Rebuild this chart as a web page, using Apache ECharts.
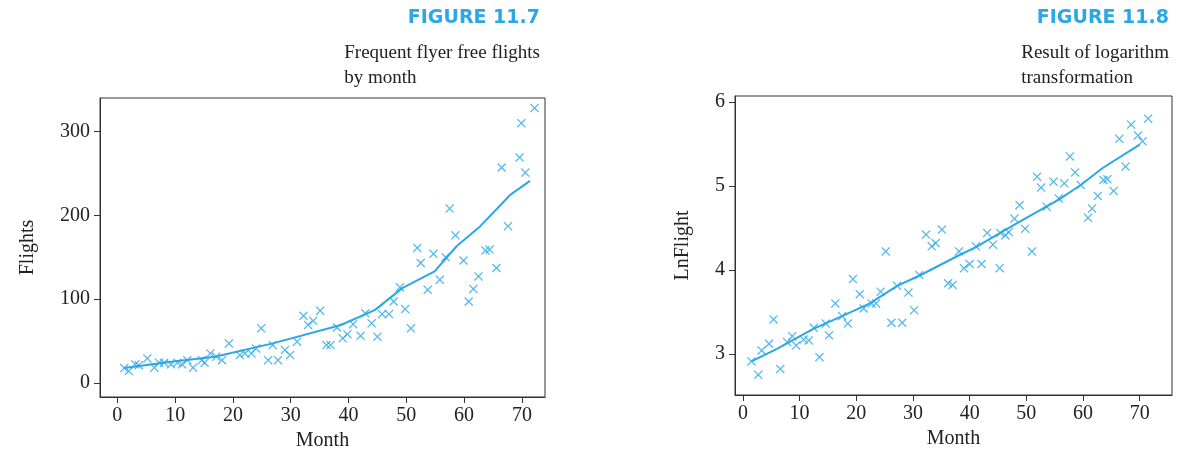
<!DOCTYPE html>
<html>
<head>
<meta charset="utf-8">
<script src="https://cdn.jsdelivr.net/npm/echarts@6/dist/echarts.min.js"></script>
<style>
html,body{margin:0;padding:0;background:#fff;}
#main{width:1186px;height:458px;}
</style>
</head>
<body>
<div id="main"></div>
<script>
// 月份刻度
var monthTicks = [0, 10, 20, 30, 40, 50, 60, 70];
var flightTicks = [0, 100, 200, 300];
var lnTicks = [3, 4, 5, 6];

// Figure 11.7 散点 [月份, 航班]
var flights = [[1.2,17.5],[2,14],[3.1,22],[3.7,21],[5.2,29],[6.4,18],[7.2,24],[8.1,24],[9.3,22],[10.4,24],
  [11.2,22],[12.1,27],[13.1,18],[14.6,27],[15.1,24],[16.1,35],[17.1,31],[18.1,27],[19.3,47],[21.2,33],
  [22.1,35],[23.2,35],[24,41],[24.9,65],[26.1,27],[26.9,45],[27.8,27],[29,39],[29.9,33],[31.1,49],
  [32.2,80],[33,69],[33.9,74],[35.1,86],[36.2,45],[36.9,45],[38,66],[39,53],[39.8,58],[40.8,70],
  [42.1,56],[42.9,83],[44,71],[45,55],[45.8,82],[47,82],[47.8,97],[48.9,114],[49.8,88],[50.8,65],
  [51.9,161],[52.5,143],[53.7,111],[54.7,154],[55.8,123],[56.8,150],[57.5,208],[58.5,176],[59.9,146],[60.8,97],
  [61.6,112],[62.5,127],[63.7,158],[64.4,159],[65.6,137],[66.5,257],[67.6,187],[69.6,269],[69.9,310],[70.6,251],[72.2,328]];
var flightsTrend = [[1.2,17.5],[9.3,25],[16.9,31],[26.9,47],[38.7,69],[44.6,87],[49.3,113],[54.9,133],
  [58.7,163],[62.8,187],[68.1,225],[71.4,241]];

// Figure 11.8 散点 [月份, LnFlight]
var lnFlight = [[1.5,2.91],[2.7,2.75],[3.3,3.04],[4.6,3.12],[5.4,3.41],[6.6,2.82],[7.8,3.14],[8.7,3.21],[9.4,3.10],[10.7,3.17],
  [11.6,3.16],[12.5,3.31],[13.5,2.96],[14.6,3.36],[15.2,3.22],[16.3,3.60],[17.5,3.45],[18.5,3.36],[19.4,3.89],[20.6,3.71],
  [21.3,3.54],[22.7,3.60],[23.5,3.60],[24.3,3.74],[25.2,4.22],[26.2,3.37],[27.2,3.81],[28.1,3.37],[29.2,3.73],[30.2,3.52],
  [31.1,3.94],[32.3,4.42],[33.3,4.28],[34,4.32],[35.1,4.48],[36.2,3.84],[37,3.82],[38.1,4.22],[39,4.02],[40,4.07],
  [41.1,4.28],[42.1,4.07],[43.1,4.44],[44.1,4.30],[45.3,4.02],[45.4,4.44],[46.3,4.41],[46.9,4.45],[47.9,4.61],[48.8,4.77],
  [49.8,4.49],[51,4.22],[51.9,5.11],[52.6,4.98],[53.6,4.75],[54.8,5.05],[55.7,4.85],[56.7,5.03],[57.7,5.35],[58.6,5.16],
  [59.6,5.01],[60.9,4.62],[61.6,4.73],[62.6,4.88],[63.6,5.07],[64.3,5.08],[65.4,4.94],[66.4,5.56],[67.5,5.23],[68.5,5.73],
  [69.7,5.60],[70.5,5.53],[71.5,5.80]];
var lnTrend = [[1.5,2.91],[6,3.06],[12.5,3.30],[17.5,3.45],[22.4,3.60],[27.2,3.81],[31.1,3.93],[38.3,4.18],
  [41.1,4.27],[45.4,4.44],[50,4.62],[55.8,4.84],[59.6,5.01],[63.4,5.21],[70,5.49]];

var blue = '#2aa7e6';
var serif = 'Liberation Serif';
var xMark = 'path://M0,1L1,0L5,4L9,0L10,1L6,5L10,9L9,10L5,6L1,10L0,9L4,5Z';

function xAxisOpt(idx, min, max){
	return {
		gridIndex: idx, type: 'value', min: min, max: max,
		name: 'Month', nameLocation: 'middle', nameGap: 33,
		nameTextStyle: {fontFamily: serif, fontSize: 20, color: '#222'},
		axisLine: {onZero: false, lineStyle: {color: '#333'}},
		axisTick: {customValues: monthTicks, length: 6, lineStyle: {color: '#333'}},
		axisLabel: {customValues: monthTicks, fontFamily: serif, fontSize: 20, color: '#222', margin: 9},
		splitLine: {show: false}
	};
}
function yAxisOpt(idx, min, max, ticks, name, gap){
	return {
		gridIndex: idx, type: 'value', min: min, max: max,
		name: name, nameLocation: 'middle', nameGap: gap,
		nameTextStyle: {fontFamily: serif, fontSize: 20, color: '#222'},
		axisLine: {onZero: false, lineStyle: {color: '#333'}},
		axisTick: {customValues: ticks, length: 6, lineStyle: {color: '#333'}},
		axisLabel: {customValues: ticks, fontFamily: serif, fontSize: 20, color: '#222', margin: 10},
		splitLine: {show: false}
	};
}

var myChart = echarts.init(document.getElementById('main'));
var option = {
	animation: false,
	title: [
		{text: 'FIGURE 11.7', right: 641, top: 4, textStyle: {fontFamily: 'DejaVu Sans', fontWeight: 'bold', fontSize: 19, color: blue}},
		{text: 'Frequent flyer free flights\nby month', right: 641, top: 36,
			textStyle: {fontFamily: serif, fontWeight: 'normal', fontSize: 19, color: '#222', lineHeight: 25, align: 'right'}},
		{text: 'FIGURE 11.8', right: 12, top: 4, textStyle: {fontFamily: 'DejaVu Sans', fontWeight: 'bold', fontSize: 19, color: blue}},
		{text: 'Result of logarithm\ntransformation', right: 12, top: 36,
			textStyle: {fontFamily: serif, fontWeight: 'normal', fontSize: 19, color: '#222', lineHeight: 25, align: 'right'}}
	],
	grid: [
		{left: 100, top: 98, width: 445, height: 299, show: true, borderColor: '#333', borderWidth: 1},
		{left: 735, top: 96, width: 437, height: 299, show: true, borderColor: '#333', borderWidth: 1}
	],
	xAxis: [xAxisOpt(0, -3, 74), xAxisOpt(1, -1.4, 75.7)],
	yAxis: [yAxisOpt(0, -17, 340, flightTicks, 'Flights', 62), yAxisOpt(1, 2.51, 6.07, lnTicks, 'LnFlight', 42)],
	series: [
		{type: 'scatter', xAxisIndex: 0, yAxisIndex: 0, data: flights, symbol: xMark, symbolSize: 9, itemStyle: {color: blue}},
		{type: 'line', xAxisIndex: 0, yAxisIndex: 0, data: flightsTrend, showSymbol: false, lineStyle: {color: blue, width: 2}},
		{type: 'scatter', xAxisIndex: 1, yAxisIndex: 1, data: lnFlight, symbol: xMark, symbolSize: 9, itemStyle: {color: blue}},
		{type: 'line', xAxisIndex: 1, yAxisIndex: 1, data: lnTrend, showSymbol: false, lineStyle: {color: blue, width: 2}}
	]
};
myChart.setOption(option);
</script>
</body>
</html>
